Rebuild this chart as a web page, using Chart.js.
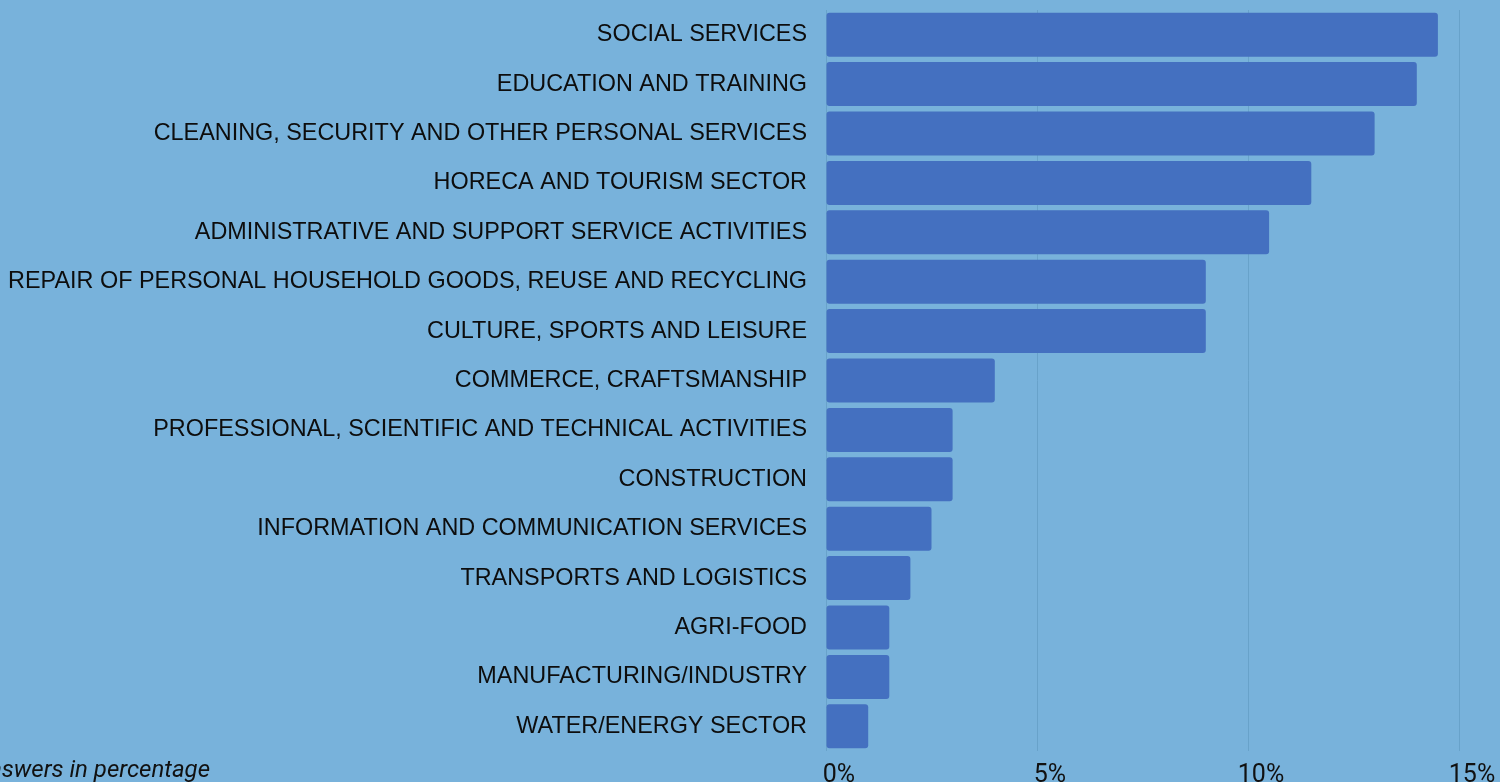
<!DOCTYPE html>
<html>
<head>
<meta charset="utf-8">
<script src="https://cdn.jsdelivr.net/npm/chart.js@4/dist/chart.umd.min.js"></script>
<style>
  html, body { margin: 0; padding: 0; background: #78b2db; overflow: hidden; }
  #wrap { position: relative; width: 1500px; height: 782px; }
</style>
</head>
<body>
<div id="wrap"><canvas id="chart"></canvas></div>
<script>
// Sectors, ordered from largest to smallest share of answers
const categories = [
  'SOCIAL SERVICES',
  'EDUCATION AND TRAINING',
  'CLEANING, SECURITY AND OTHER PERSONAL SERVICES',
  'HORECA AND TOURISM SECTOR',
  'ADMINISTRATIVE AND SUPPORT SERVICE ACTIVITIES',
  'REPAIR OF PERSONAL HOUSEHOLD GOODS, REUSE AND RECYCLING',
  'CULTURE, SPORTS AND LEISURE',
  'COMMERCE, CRAFTSMANSHIP',
  'PROFESSIONAL, SCIENTIFIC AND TECHNICAL ACTIVITIES',
  'CONSTRUCTION',
  'INFORMATION AND COMMUNICATION SERVICES',
  'TRANSPORTS AND LOGISTICS',
  'AGRI-FOOD',
  'MANUFACTURING/INDUSTRY',
  'WATER/ENERGY SECTOR'
];

// Share of answers per sector, in percent
const shares = [14.5, 14, 13, 11.5, 10.5, 9, 9, 4, 3, 3, 2.5, 2, 1.5, 1.5, 1];

// Percentage axis ticks
const tickValues = [0, 5, 10, 15];
const tickSuffix = '%';

const axisNote = 'answers in percentage';

const labelFont = '"Liberation Sans", Arial, sans-serif';
const numberFont = 'Roboto, "Open Sans", sans-serif';

// Italic note in the lower left corner
const notePlugin = {
  id: 'axisNote',
  afterDraw(chart) {
    const ctx = chart.ctx;
    ctx.save();
    ctx.font = 'italic 24px ' + numberFont;
    ctx.fillStyle = '#111111';
    ctx.textAlign = 'right';
    ctx.textBaseline = 'alphabetic';
    ctx.fillText(axisNote, 210, 777);
    ctx.restore();
  }
};

function draw() {
  new Chart(document.getElementById('chart'), {
    type: 'bar',
    data: {
      labels: categories,
      datasets: [{
        data: shares,
        backgroundColor: '#4470c0',
        borderWidth: 0,
        borderRadius: 3,
        borderSkipped: false,
        barPercentage: 0.89,
        categoryPercentage: 1
      }]
    },
    options: {
      indexAxis: 'y',
      responsive: true,
      maintainAspectRatio: false,
      animation: false,
      layout: { padding: { top: 10, right: 41, bottom: 0, left: 0 } },
      plugins: {
        legend: { display: false },
        tooltip: { enabled: false }
      },
      scales: {
        x: {
          min: 0,
          max: 15,
          afterBuildTicks(scale) {
            scale.ticks = tickValues.map(v => ({ value: v }));
          },
          afterFit(scale) {
            scale.height = 31;
            scale.paddingLeft = 0;
            scale.paddingRight = 0;
          },
          border: { display: false },
          grid: {
            color: '#68a2ca',
            lineWidth: 1,
            drawTicks: false
          },
          ticks: {
            padding: 10,
            labelOffset: 13,
            maxRotation: 0,
            color: '#111111',
            font: { family: numberFont, size: 25 },
            callback: v => v + tickSuffix
          }
        },
        y: {
          afterFit(scale) {
            scale.width = 826;
            scale.paddingTop = 0;
            scale.paddingBottom = 0;
          },
          border: { display: false },
          grid: { display: false },
          ticks: {
            padding: 11,
            autoSkip: false,
            color: '#0d0d0d',
            font: { family: labelFont, size: 23.4 }
          }
        }
      }
    },
    plugins: [notePlugin]
  });
}

Promise.all([
  document.fonts.load('23.4px ' + labelFont),
  document.fonts.load('25px ' + numberFont),
  document.fonts.load('italic 24px ' + numberFont)
]).then(draw, draw);
</script>
</body>
</html>
